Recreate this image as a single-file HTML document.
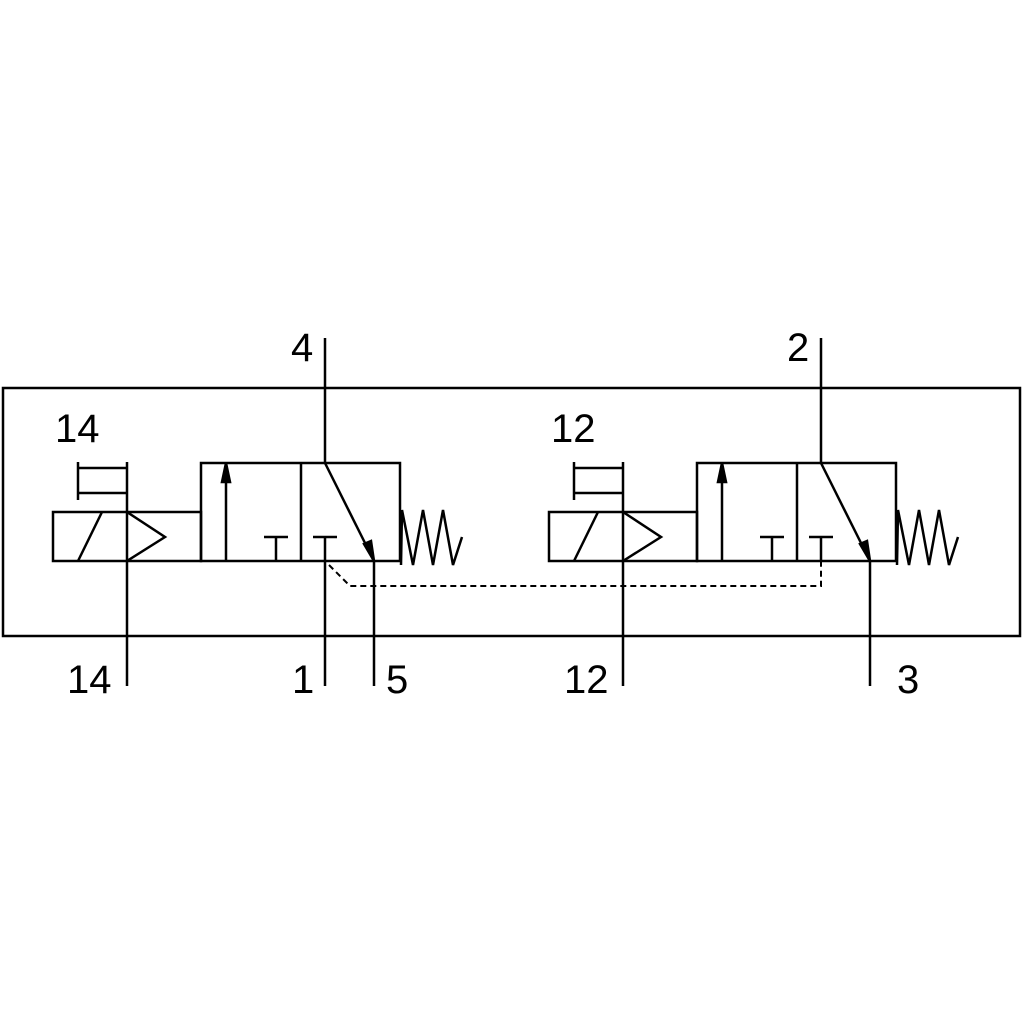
<!DOCTYPE html>
<html><head><style>body{margin:0;background:#fff}svg{display:block}</style></head><body>
<svg width="1024" height="1024" viewBox="0 0 1024 1024" xmlns="http://www.w3.org/2000/svg">
<rect width="1024" height="1024" fill="#fff"/>
<defs>
<g id="v" fill="none" stroke="#000" stroke-width="2.5">
<rect x="201" y="463" width="199" height="98"/>
<line x1="301" y1="463" x2="301" y2="561"/>
<line x1="325" y1="338" x2="325" y2="463"/>
<line x1="325" y1="463" x2="374" y2="561"/>
<polygon points="374,561 364,544 371,541" fill="#000"/>
<line x1="374" y1="561" x2="374" y2="686"/>
<line x1="226" y1="561" x2="226" y2="470"/>
<polygon points="226,463 222,482 230,482" fill="#000"/>
<line x1="264" y1="537" x2="288" y2="537"/><line x1="276" y1="537" x2="276" y2="561"/>
<line x1="313" y1="537" x2="337" y2="537"/><line x1="325" y1="537" x2="325" y2="561"/>
<polyline points="401,565 402,510 413,565 423,510 433,565 443,510 453,565 462,537"/>
<rect x="53" y="512" width="148" height="49"/>
<line x1="127" y1="462" x2="127" y2="686"/>
<line x1="102" y1="512" x2="78" y2="561"/>
<polyline points="127,512 165,537 127,561"/>
<line x1="78" y1="468" x2="127" y2="468"/>
<line x1="78" y1="493" x2="127" y2="493"/>
<line x1="78" y1="462" x2="78" y2="500"/>
</g>
</defs>
<rect x="3" y="388" width="1017" height="248" fill="none" stroke="#000" stroke-width="2.5"/>
<use href="#v"/>
<use href="#v" transform="translate(496,0)"/>
<line x1="325" y1="561" x2="325" y2="686" stroke="#000" stroke-width="2.5"/>
<polyline points="329,565 350,586 821,586 821,561" fill="none" stroke="#000" stroke-width="2" stroke-dasharray="6,4"/>
<g font-family="Liberation Sans, sans-serif" font-size="40" fill="#000">
<text x="55" y="442">14</text>
<text x="291" y="361">4</text>
<text x="67" y="693">14</text>
<text x="292" y="693">1</text>
<text x="386" y="693">5</text>
<text x="551" y="442">12</text>
<text x="787" y="361">2</text>
<text x="564" y="693">12</text>
<text x="897" y="693">3</text>
</g>
</svg>
</body></html>
